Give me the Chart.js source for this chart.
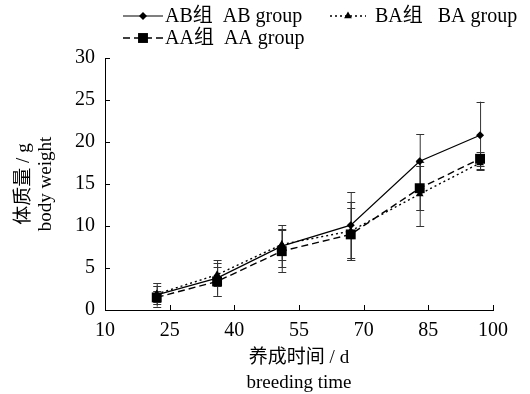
<!DOCTYPE html>
<html>
<head>
<meta charset="utf-8">
<script src="https://cdn.jsdelivr.net/npm/chart.js@4"></script>
<style>
  body { margin: 0; background: #fff; }
  #wrap { width: 530px; height: 394px; }
</style>
</head>
<body>
<div id="wrap"><canvas id="weightChart" width="530" height="394"></canvas></div>
<script>
const days = [22, 36, 51, 67, 83, 97];
const xTicks = [10, 25, 40, 55, 70, 85, 100];
const yTicks = [0, 5, 10, 15, 20, 25, 30];

const abWeight = [1.8, 3.8, 7.6, 10.1, 17.7, 20.8];
const baWeight = [1.9, 4.2, 7.8, 9.4, 13.8, 17.5];
const aaWeight = [1.5, 3.4, 7.0, 9.0, 14.5, 18.0];

const abError = [1.4, 2.1, 2.5, 3.9, 3.2, 4.0];
const baError = [1.0, 1.4, 1.8, 3.5, 3.8, 0.8];
const aaError = [0.8, 1.7, 2.5, 3.1, 2.6, 0.8];

const FONT = '"Liberation Serif", "Noto Sans CJK SC", serif';

function points(ys) {
  return days.map((d, i) => ({ x: d, y: ys[i] }));
}

// error bars, drawn under the markers
const errorBars = {
  id: "errorBars",
  beforeDatasetsDraw(chart) {
    const { ctx, scales } = chart;
    ctx.save();
    ctx.lineWidth = 1;
    chart.data.datasets.forEach((ds) => {
      ds.data.forEach((p, i) => {
        const x = scales.x.getPixelForValue(p.x);
        const top = scales.y.getPixelForValue(p.y + ds.errors[i]);
        const bot = scales.y.getPixelForValue(p.y - ds.errors[i]);
        ctx.strokeStyle = "#333";
        ctx.beginPath();
        ctx.moveTo(x + 0.5, top);
        ctx.lineTo(x + 0.5, bot);
        ctx.moveTo(x - 3.5, Math.round(top) + 0.5);
        ctx.lineTo(x + 4.5, Math.round(top) + 0.5);
        ctx.moveTo(x - 3.5, Math.round(bot) + 0.5);
        ctx.lineTo(x + 4.5, Math.round(bot) + 0.5);
        ctx.stroke();
      });
    });
    ctx.restore();
  },
};

// inward tick marks + legend drawn by hand
const decorations = {
  id: "decorations",
  afterDraw(chart) {
    const { ctx, scales, chartArea } = chart;
    ctx.save();
    ctx.strokeStyle = "#000";
    ctx.lineWidth = 1;
    ctx.beginPath();
    xTicks.forEach((v) => {
      const x = Math.round(scales.x.getPixelForValue(v)) + 0.5;
      ctx.moveTo(x, chartArea.bottom);
      ctx.lineTo(x, chartArea.bottom - 5);
    });
    yTicks.forEach((v) => {
      const y = Math.round(scales.y.getPixelForValue(v)) + 0.5;
      ctx.moveTo(chartArea.left, y);
      ctx.lineTo(chartArea.left + 5, y);
    });
    ctx.stroke();

    const items = [
      { ds: 0, x: 123, y: 16 },
      { ds: 1, x: 330, y: 16 },
      { ds: 2, x: 123, y: 38 },
    ];
    ctx.font = "20px " + FONT;
    ctx.textBaseline = "middle";
    items.forEach((it) => {
      const ds = chart.data.datasets[it.ds];
      ctx.strokeStyle = "#000";
      ctx.lineWidth = ds.borderWidth;
      ctx.setLineDash(ds.borderDash || []);
      ctx.beginPath();
      ctx.moveTo(it.x, it.y);
      ctx.lineTo(it.x + (it.ds === 1 ? 36 : 40), it.y);
      ctx.stroke();
      ctx.setLineDash([]);
      ctx.fillStyle = "#000";
      Chart.helpers.drawPoint(ctx, {
        pointStyle: ds.pointStyle,
        radius: ds.pointRadius,
        borderWidth: 0,
      }, it.x + (it.ds === 1 ? 18 : 20), it.y);
      ctx.fillStyle = "#000";
      ctx.fillText(ds.label, it.x + (it.ds === 1 ? 45 : 42), it.y + 1);
    });
    ctx.restore();
  },
};

const ctx = document.getElementById("weightChart").getContext("2d");
const weightChart = new Chart(ctx, {
  type: "line",
  data: {
    datasets: [
      {
        label: "AB组  AB group",
        data: points(abWeight),
        errors: abError,
        borderColor: "#000",
        backgroundColor: "#000",
        borderWidth: 1.2,
        pointStyle: "rectRot",
        pointRadius: 4,
        pointBorderWidth: 0,
      },
      {
        label: "BA组   BA group",
        data: points(baWeight),
        errors: baError,
        borderColor: "#000",
        backgroundColor: "#000",
        borderWidth: 1.4,
        borderDash: [2, 3],
        pointStyle: "triangle",
        pointRadius: 4.5,
        pointBorderWidth: 0,
      },
      {
        label: "AA组  AA group",
        data: points(aaWeight),
        errors: aaError,
        borderColor: "#000",
        backgroundColor: "#000",
        borderWidth: 1.4,
        borderDash: [7, 4],
        pointStyle: "rect",
        pointRadius: 7,
        pointBorderWidth: 0,
      },
    ],
  },
  options: {
    responsive: false,
    animation: false,
    layout: { padding: { top: 58, right: 37, left: 0, bottom: 0 } },
    plugins: {
      legend: { display: false },
      tooltip: { enabled: false },
    },
    scales: {
      x: {
        type: "linear",
        min: 10,
        max: 100,
        afterBuildTicks: (scale) => {
          scale.ticks = xTicks.map((v) => ({ value: v }));
        },
        afterFit: (scale) => {
          scale.height = 84;
        },
        grid: { drawOnChartArea: false, drawTicks: false },
        border: { color: "#000", width: 1 },
        ticks: { color: "#000", padding: 9, font: { family: FONT, size: 20 } },
        title: {
          display: true,
          text: ["养成时间 / d", "breeding time"],
          color: "#000",
          font: { family: FONT, size: 19, lineHeight: 1.3 },
          padding: { top: 7, bottom: -1 },
        },
      },
      y: {
        min: 0,
        max: 30,
        afterBuildTicks: (scale) => {
          scale.ticks = yTicks.map((v) => ({ value: v }));
        },
        afterFit: (scale) => {
          scale.width = 105;
        },
        grid: { drawOnChartArea: false, drawTicks: false },
        border: { color: "#000", width: 1 },
        ticks: { color: "#000", padding: 10, font: { family: FONT, size: 20 } },
        title: {
          display: true,
          text: ["体质量 / g", "body weight"],
          color: "#000",
          font: { family: FONT, size: 19, lineHeight: 1.15 },
          padding: { top: 13, bottom: 0 },
        },
      },
    },
  },
  plugins: [errorBars, decorations],
});
</script>
</body>
</html>
